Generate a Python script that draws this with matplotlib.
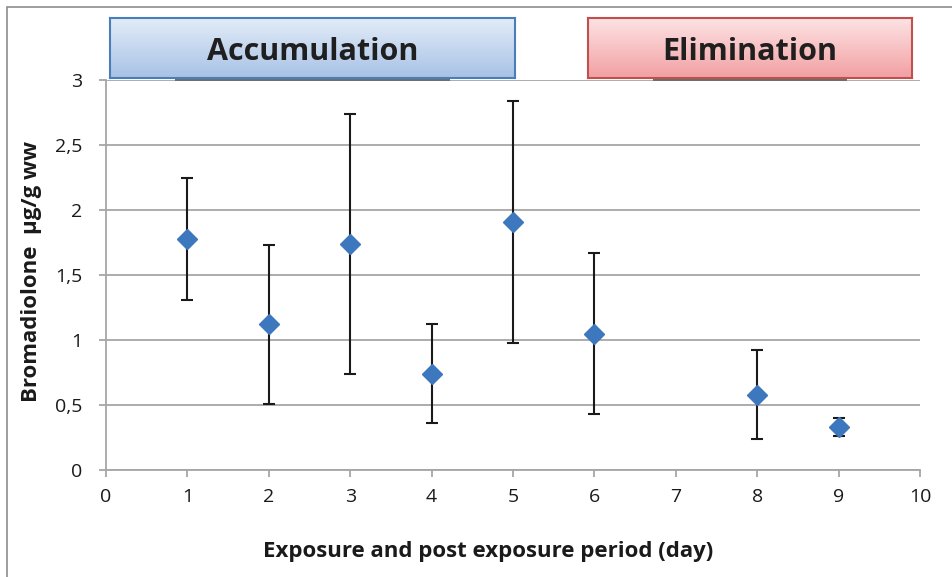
import numpy as np
import matplotlib.pyplot as plt
from matplotlib.patches import Rectangle

# dati
days = [1, 2, 3, 4, 5, 6, 8, 9]
mean_conc = [1.78, 1.12, 1.74, 0.74, 1.91, 1.05, 0.58, 0.33]
sd_conc = [0.47, 0.61, 1.00, 0.38, 0.93, 0.62, 0.34, 0.07]
x_ticks = list(range(0, 11))
y_ticks = [0, 0.5, 1, 1.5, 2, 2.5, 3]
y_tick_labels = ['0', '0,5', '1', '1,5', '2', '2,5', '3']
phases = ['Accumulation', 'Elimination']

plt.rcParams['font.family'] = ['Open Sans', 'DejaVu Sans']

fig = plt.figure(figsize=(9.52, 5.77), dpi=100)
W, H = 952, 577

# bordo grigio dell'area grafico
fig.patches.append(Rectangle((7 / W, -0.1), 1.2, (577 - 7) / H + 0.1,
                             transform=fig.transFigure, fill=False,
                             edgecolor='#8c8c8c', lw=1.2))

ax = fig.add_axes([106 / W, (H - 470) / H, 814 / W, 390 / H])
ax.errorbar(days, mean_conc, yerr=sd_conc, fmt='none', ecolor='#1a1a1a',
            elinewidth=1.5, capsize=4, capthick=1.5, zorder=3)
ax.plot(days, mean_conc, 'D', color='#3d77be', markersize=10, zorder=4)

ax.set_xlim(0, 10)
ax.set_ylim(0, 3)
ax.set_xticks(x_ticks)
ax.set_yticks(y_ticks)
ax.set_yticklabels(y_tick_labels)
ax.grid(axis='y', color='#a6a6a6', lw=1.3)
ax.set_axisbelow(True)
for s in ['top', 'right']:
    ax.spines[s].set_visible(False)
for s in ['left', 'bottom']:
    ax.spines[s].set_color('#a6a6a6')
    ax.spines[s].set_linewidth(1.3)
ax.tick_params(axis='both', colors='#a6a6a6', labelcolor='#1a1a1a',
               labelsize=14, length=5, width=1.3)
ax.tick_params(axis='y', pad=12)
ax.tick_params(axis='x', pad=8)

ax.set_xlabel('Exposure and post exposure period (day)', fontsize=16,
              fontweight='bold', color='#1a1a1a')
ax.xaxis.set_label_coords(0.469, -(551 - 470) / 390)
ax.xaxis.label.set_va('center')
fig.text(32 / W, (H - 272) / H, 'Bromadiolone  µg/g ww', rotation=90,
         fontsize=16, fontweight='bold', color='#1a1a1a',
         ha='center', va='center')

# riquadri delle fasi con sfumatura
boxes = [
    (110, 515, '#e3ecf8', '#a7c2e6', '#4a7ebb'),
    (588, 912, '#fde3e4', '#f2a0a3', '#c0504d'),
]
for name, (x0, x1, c_top, c_bot, c_edge) in zip(phases, boxes):
    # ombra
    sh = fig.add_axes([(x0 + 65) / W, (H - 81) / H, (x1 - x0 - 130) / W, 2.5 / H])
    sh.set_facecolor('#6e6e6e')
    sh.set_xticks([]); sh.set_yticks([])
    for s in sh.spines.values():
        s.set_visible(False)
    bx = fig.add_axes([x0 / W, (H - 78) / H, (x1 - x0) / W, 60 / H])
    top = np.array(plt.matplotlib.colors.to_rgb(c_top))
    bot = np.array(plt.matplotlib.colors.to_rgb(c_bot))
    t = np.linspace(0, 1, 64)[:, None]
    grad = (top * (1 - t) + bot * t)[:, None, :]
    bx.imshow(grad, aspect='auto', extent=[0, 1, 0, 1], origin='upper')
    bx.set_xticks([]); bx.set_yticks([])
    for s in bx.spines.values():
        s.set_color(c_edge)
        s.set_linewidth(1.5)
    bx.text(0.5, 0.43, name, ha='center', va='center', fontsize=22,
            fontweight='bold', color='#1f1f1f', transform=bx.transAxes)

fig.savefig('out.png', dpi=100)
